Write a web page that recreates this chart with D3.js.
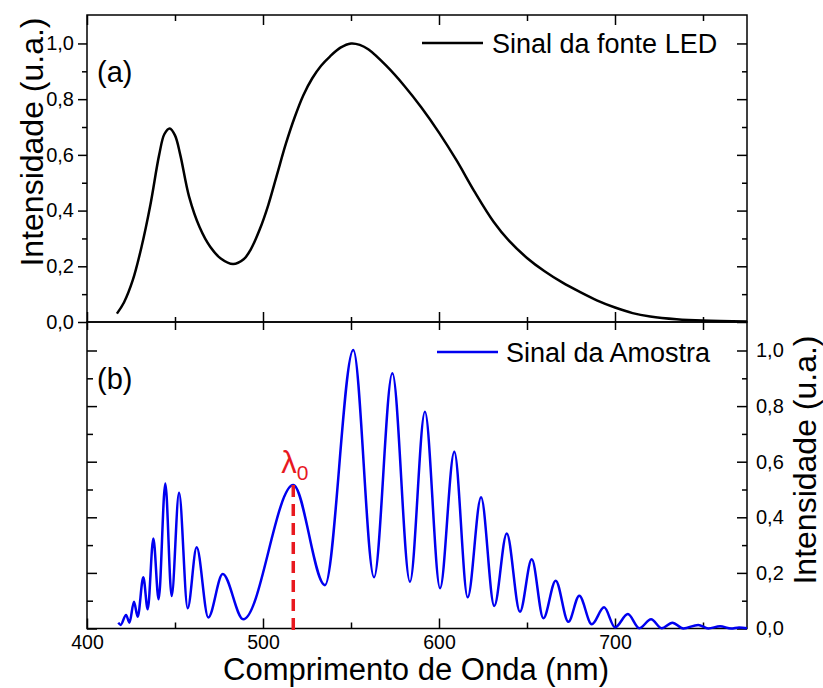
<!DOCTYPE html>
<html>
<head>
<meta charset="utf-8">
<script src="https://cdnjs.cloudflare.com/ajax/libs/d3/7.8.5/d3.min.js"></script>
<style>
  body { margin: 0; background: #fff; }
  svg text { font-family: "Liberation Sans", Arial, sans-serif; fill: #000; }
  .axis path, .axis line { stroke: #000; stroke-width: 1.5; }
</style>
</head>
<body>
<script>
// (a) LED source spectrum
var ledWave = [417, 421, 426, 431, 436, 441, 444, 447, 450, 453, 458, 464, 470, 476, 483, 489, 493, 498,
               503, 508, 513, 518, 523, 528, 533, 538, 544, 550, 555, 560, 570, 580, 590, 600, 610, 620,
               631, 640, 650, 660, 670, 680, 690, 700, 710, 720, 735, 750, 775];
var ledInt  = [0.03, 0.07, 0.15, 0.27, 0.42, 0.60, 0.675, 0.695, 0.67, 0.60, 0.45, 0.34, 0.27, 0.228, 0.208, 0.225, 0.26, 0.33,
               0.42, 0.53, 0.64, 0.735, 0.815, 0.875, 0.92, 0.953, 0.985, 1.0, 0.995, 0.978, 0.92, 0.85, 0.77, 0.68, 0.58, 0.47,
               0.36, 0.29, 0.23, 0.182, 0.142, 0.108, 0.077, 0.052, 0.032, 0.02, 0.01, 0.005, 0.002];

// (b) sample signal, peaks and troughs
var sampleWave = [417.8, 419.1, 422.2, 424.1, 426.7, 428.8, 432.0, 434.5, 437.7, 440.7, 444.5, 448.1, 452.3, 457.2,
                  462.3, 468.9, 477.1, 488.8, 517.2, 535.2, 551.3, 563.1, 573.5, 583.5, 592.0, 600.6, 608.7, 616.3,
                  623.9, 631.4, 638.5, 646.0, 652.7, 659.3, 666.3, 673.5, 679.7, 686.8, 693.8, 700.0, 707.3, 713.8,
                  720.5, 726.5, 732.6, 738.8, 747.3, 753.0, 759.7, 766.0, 770.5, 775.0];
var sampleInt  = [0.021, 0.013, 0.049, 0.021, 0.096, 0.042, 0.184, 0.069, 0.324, 0.105, 0.522, 0.117, 0.488, 0.073,
                  0.292, 0.040, 0.196, 0.033, 0.516, 0.156, 1.002, 0.184, 0.918, 0.168, 0.780, 0.145, 0.636, 0.112,
                  0.472, 0.081, 0.342, 0.060, 0.249, 0.037, 0.172, 0.024, 0.118, 0.015, 0.076, 0.004, 0.052, 0.001,
                  0.033, 0.001, 0.021, 0.0, 0.013, 0.0, 0.008, 0.0, 0.004, 0.001];

var lambda0 = 517.2;
var xMajor = [400, 500, 600, 700];
var xMinor = [450, 550, 650, 750];
var yMajor = [0, 0.2, 0.4, 0.6, 0.8, 1.0];
var yMinor = [0.1, 0.3, 0.5, 0.7, 0.9];

var W = 823, H = 688;
var left = 87, right = 747, top1 = 15.6, mid = 322, bot = 628.5;

var svg = d3.select("body").append("svg")
    .attr("width", W).attr("height", H);

var x = d3.scaleLinear().domain([400, 775]).range([left, right]);
var yTop = d3.scaleLinear().domain([0, 1.1]).range([mid, top1]);
var yBot = d3.scaleLinear().domain([0, 1.1]).range([bot, bot - 1.1 * 278]);

var br = d3.formatLocale({decimal: ",", thousands: ".", grouping: [3], currency: ["", ""]});
var fmt = br.format(".1f");

function ax(gen, scale, vals, size, labels, tx, ty, pad, fs) {
  var a = gen(scale).tickValues(vals).tickSizeInner(size).tickSizeOuter(0)
      .tickPadding(pad || 4);
  a.tickFormat(labels ? labels : function() { return ""; });
  var g = svg.append("g").attr("class", "axis")
      .attr("transform", "translate(" + tx + "," + ty + ")").call(a);
  g.select(".domain").remove();
  g.selectAll("text").style("font-size", (fs || 20) + "px").style("font-family", "Liberation Sans, Arial, sans-serif");
  return g;
}

// top panel axes
ax(d3.axisLeft, yTop, yMajor, 9, fmt, left, 0, 4);
ax(d3.axisLeft, yTop, yMinor, 5, null, left, 0);
ax(d3.axisRight, yTop, yMajor, -10, null, right, 0);
ax(d3.axisRight, yTop, yMinor, -5, null, right, 0);
ax(d3.axisTop, x, xMajor, -10, null, 0, 15);
ax(d3.axisTop, x, xMinor, -6, null, 0, 15);
ax(d3.axisBottom, x, xMajor, -10, null, 0, mid);
ax(d3.axisBottom, x, xMinor, -5, null, 0, mid);

// bottom panel axes
ax(d3.axisTop, x, xMajor.concat(xMinor), -8, null, 0, mid);
ax(d3.axisLeft, yBot, yMajor, -10, null, left, 0);
ax(d3.axisLeft, yBot, yMinor, -6, null, left, 0);
ax(d3.axisRight, yBot, yMajor, -10, fmt, right, 0, 9);
ax(d3.axisRight, yBot, yMinor, -5, null, right, 0);
ax(d3.axisBottom, x, xMajor, -10, d3.format("d"), 0, bot, 7, 19.5);
ax(d3.axisBottom, x, xMinor, -6, null, 0, bot);

// frames
svg.append("rect").attr("x", left).attr("y", 15).attr("width", right - left).attr("height", mid - 15)
    .attr("fill", "none").attr("stroke", "#000").attr("stroke-width", 1.5);
svg.append("rect").attr("x", left).attr("y", mid).attr("width", right - left).attr("height", bot - mid)
    .attr("fill", "none").attr("stroke", "#000").attr("stroke-width", 1.5);

// curves
var ledLine = d3.line().x(function(d, i) { return x(ledWave[i]); })
    .y(function(d) { return yTop(d); }).curve(d3.curveCatmullRom.alpha(0.5));
svg.append("path").attr("d", ledLine(ledInt))
    .attr("fill", "none").attr("stroke", "#000").attr("stroke-width", 2.5);

var sampleLine = d3.line().x(function(d, i) { return x(sampleWave[i]); })
    .y(function(d) { return yBot(d); }).curve(d3.curveMonotoneX);
svg.append("path").attr("d", sampleLine(sampleInt))
    .attr("fill", "none").attr("stroke", "#0000f0").attr("stroke-width", 2.5);

// lambda_0 marker
var peak0 = sampleInt[sampleWave.indexOf(lambda0)];
svg.append("line")
    .attr("x1", x(lambda0)).attr("x2", x(lambda0))
    .attr("y1", yBot(peak0)).attr("y2", bot + 5)
    .attr("stroke", "#e8191f").attr("stroke-width", 3.5).attr("stroke-dasharray", "12,7");
var lt = svg.append("text").attr("x", x(lambda0) - 12).attr("y", 473)
    .style("font-size", "31px").style("fill", "#e8191f").text("λ");
lt.append("tspan").attr("dy", 7).style("font-size", "21px").style("fill", "#e8191f").text("0");

// legends
svg.append("line").attr("x1", 422).attr("x2", 483).attr("y1", 43).attr("y2", 43)
    .attr("stroke", "#000").attr("stroke-width", 2.5);
svg.append("text").attr("x", 492).attr("y", 53).style("font-size", "27px").text("Sinal da fonte LED");
svg.append("line").attr("x1", 437).attr("x2", 498).attr("y1", 352).attr("y2", 352)
    .attr("stroke", "#0000f0").attr("stroke-width", 2.5);
svg.append("text").attr("x", 506).attr("y", 362).style("font-size", "27px").text("Sinal da Amostra");

// panel labels
svg.append("text").attr("x", 97).attr("y", 82).style("font-size", "29px").text("(a)");
svg.append("text").attr("x", 97).attr("y", 389).style("font-size", "29px").text("(b)");

// axis titles
svg.append("text").attr("transform", "translate(43,142) rotate(-90)")
    .attr("text-anchor", "middle").style("font-size", "32px").text("Intensidade (u.a.)");
svg.append("text").attr("transform", "translate(816,460) rotate(-90)")
    .attr("text-anchor", "middle").style("font-size", "32px").text("Intensidade (u.a.)");
svg.append("text").attr("x", 416).attr("y", 680)
    .attr("text-anchor", "middle").style("font-size", "31px").text("Comprimento de Onda (nm)");
</script>
</body>
</html>
